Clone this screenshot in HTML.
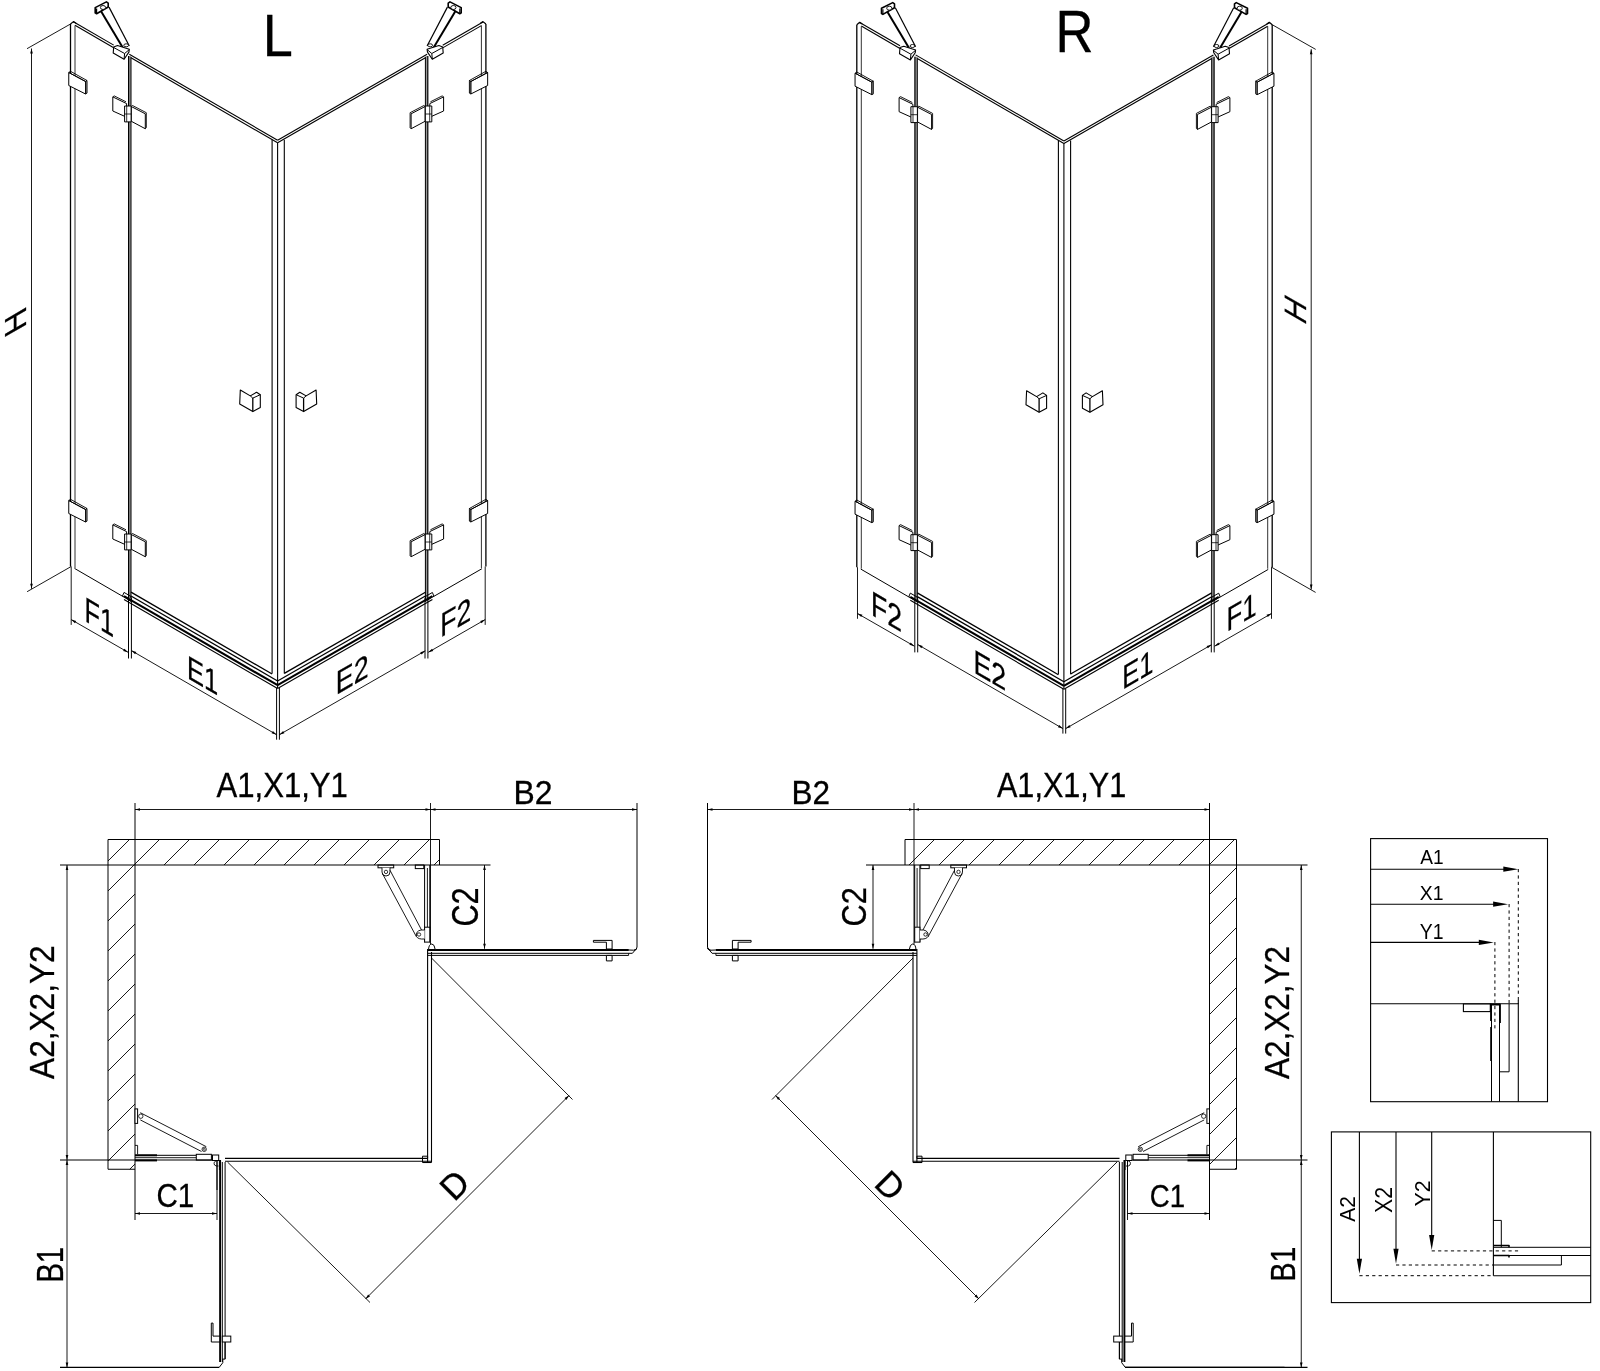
<!DOCTYPE html><html><head><meta charset="utf-8"><style>html,body{margin:0;padding:0;background:#fff;}svg{display:block;filter:grayscale(1);}text{font-family:"Liberation Sans",sans-serif;fill:#000;stroke:#000;stroke-width:0.3px;}.lg text{stroke:none;}</style></head><body><svg width="1600" height="1371" viewBox="0 0 1600 1371" font-family="Liberation Sans, sans-serif">
<rect width="1600" height="1371" fill="#fff"/>
<g transform="translate(0,0)">
<line x1="73.4" y1="21.76" x2="113.7" y2="45.14" stroke="#000" stroke-width="1.1"/>
<line x1="75" y1="25.29" x2="113.7" y2="47.74" stroke="#000" stroke-width="1.1"/>
<line x1="129.3" y1="54.19" x2="277.6" y2="140.2" stroke="#000" stroke-width="1.1"/>
<line x1="131" y1="57.77" x2="277.6" y2="142.8" stroke="#000" stroke-width="1.1"/>
<line x1="70.5" y1="24" x2="70.5" y2="566.5" stroke="#000" stroke-width="1.3"/>
<line x1="75" y1="25.5" x2="75" y2="568" stroke="#333" stroke-width="1.0"/>
<polyline points="70.5,24 73.4,21.6 76,23.2" stroke="#000" stroke-width="1.2" fill="none" stroke-linejoin="round"/>
<line x1="74.5" y1="568.4" x2="123.3" y2="596.71" stroke="#000" stroke-width="1.0"/>
<rect x="128.6" y="56" width="2.4" height="542" fill="#999"/>
<line x1="128.6" y1="56" x2="128.6" y2="598" stroke="#000" stroke-width="1.2"/>
<line x1="131" y1="57" x2="131" y2="598" stroke="#000" stroke-width="1.0"/>
<line x1="272.1" y1="139.8" x2="272.1" y2="673.6" stroke="#000" stroke-width="1.1"/>
<line x1="131" y1="592.17" x2="272.1" y2="674.01" stroke="#000" stroke-width="1.3"/>
<line x1="131" y1="595.97" x2="277.6" y2="681" stroke="#000" stroke-width="1.3"/>
<line x1="124" y1="596.11" x2="277.6" y2="685.2" stroke="#000" stroke-width="2.1"/>
<line x1="124" y1="599.51" x2="277.6" y2="688.6" stroke="#000" stroke-width="1.1"/>
<polygon points="122.5,596.04 124,592.41 131,596.47 131,601.47" stroke="#000" stroke-width="1.0" fill="none" stroke-linejoin="round"/>
<polygon points="68.75,72.5 85.6,81.5 85.6,94 68.75,85.5" stroke="#000" stroke-width="1.0" fill="#fff" stroke-linejoin="round"/>
<polygon points="68.75,72.5 70.5,71.3 87,80.5 85.6,81.5" stroke="#000" stroke-width="0.9" fill="none" stroke-linejoin="round"/>
<rect x="85.6" y="82" width="1.6" height="12" fill="#aaa"/>
<polygon points="85.6,81.5 87,80.5 87,93 85.6,94" stroke="#000" stroke-width="0.9" fill="none" stroke-linejoin="round"/>
<polygon points="68.75,500.5 85.6,509.5 85.6,522 68.75,513.5" stroke="#000" stroke-width="1.0" fill="#fff" stroke-linejoin="round"/>
<polygon points="68.75,500.5 70.5,499.3 87,508.5 85.6,509.5" stroke="#000" stroke-width="0.9" fill="none" stroke-linejoin="round"/>
<rect x="85.6" y="510" width="1.6" height="12" fill="#aaa"/>
<polygon points="85.6,509.5 87,508.5 87,521 85.6,522" stroke="#000" stroke-width="0.9" fill="none" stroke-linejoin="round"/>
<polygon points="112.8,96.9 126.6,103.6 126.6,117.2 112.8,111" stroke="#000" stroke-width="1.0" fill="#fff" stroke-linejoin="round"/>
<polyline points="112.8,96.9 114.2,95.9 126,101.8" stroke="#000" stroke-width="0.9" fill="none" stroke-linejoin="round"/>
<polygon points="131.25,106.5 145.3,113.8 145.3,128.75 131.25,121.25" stroke="#000" stroke-width="1.0" fill="#fff" stroke-linejoin="round"/>
<polyline points="131.25,106.5 132.5,105.5 146.3,112.7 146.3,127.7 145.3,128.75" stroke="#000" stroke-width="0.9" fill="none" stroke-linejoin="round"/>
<polygon points="124.6,106 131.1,106 131.1,121.9 124.6,121.9" stroke="#000" stroke-width="1.0" fill="#fff" stroke-linejoin="round"/>
<line x1="124.6" y1="114" x2="131.1" y2="114" stroke="#000" stroke-width="0.8"/>
<line x1="126.7" y1="106" x2="126.7" y2="121.9" stroke="#000" stroke-width="0.8"/>
<polygon points="112.8,524.9 126.6,531.6 126.6,545.2 112.8,539" stroke="#000" stroke-width="1.0" fill="#fff" stroke-linejoin="round"/>
<polyline points="112.8,524.9 114.2,523.9 126,529.8" stroke="#000" stroke-width="0.9" fill="none" stroke-linejoin="round"/>
<polygon points="131.25,534.5 145.3,541.8 145.3,556.75 131.25,549.25" stroke="#000" stroke-width="1.0" fill="#fff" stroke-linejoin="round"/>
<polyline points="131.25,534.5 132.5,533.5 146.3,540.7 146.3,555.7 145.3,556.75" stroke="#000" stroke-width="0.9" fill="none" stroke-linejoin="round"/>
<polygon points="124.6,534 131.1,534 131.1,549.9 124.6,549.9" stroke="#000" stroke-width="1.0" fill="#fff" stroke-linejoin="round"/>
<line x1="124.6" y1="542" x2="131.1" y2="542" stroke="#000" stroke-width="0.8"/>
<line x1="126.7" y1="534" x2="126.7" y2="549.9" stroke="#000" stroke-width="0.8"/>
<polygon points="240.3,390 250.3,395.9 256.6,392.2 260.3,394.7 260.3,407.5 252.8,411.6 239.7,404" stroke="#000" stroke-width="1.1" fill="none" stroke-linejoin="round"/>
<line x1="252.8" y1="398.1" x2="252.8" y2="411.6" stroke="#000" stroke-width="1.3"/>
<line x1="250.3" y1="395.9" x2="252.8" y2="398.1" stroke="#000" stroke-width="1.0"/>
<line x1="252.8" y1="398.1" x2="260.3" y2="394.7" stroke="#000" stroke-width="1.0"/>
<polygon points="95.2,7.6 106.4,1.9 108.2,3.2 108.2,7 96.6,13.7 95.2,12.9" stroke="#000" stroke-width="1.6" fill="#fff" stroke-linejoin="round"/>
<line x1="96.6" y1="8.6" x2="96.6" y2="13.2" stroke="#000" stroke-width="1.2"/>
<ellipse cx="103" cy="7.5" rx="2.6" ry="2" stroke="#000" stroke-width="0.9" fill="#fff"/>
<line x1="100.9" y1="10.9" x2="122.7" y2="47.4" stroke="#000" stroke-width="2.0"/>
<line x1="109" y1="7.1" x2="129.3" y2="46" stroke="#000" stroke-width="1.2"/>
<ellipse cx="126.2" cy="45.3" rx="2.4" ry="1.5" stroke="#000" stroke-width="0.9" fill="#fff"/>
<polygon points="113.7,46.9 117.5,45.5 129.3,49.3 128.9,52.1 124.1,59.2 113.2,53.1" stroke="#000" stroke-width="1.1" fill="#fff" stroke-linejoin="round"/>
<line x1="113.7" y1="47.5" x2="124.6" y2="53.5" stroke="#000" stroke-width="1.0"/>
<line x1="124.6" y1="53.5" x2="124.1" y2="59.2" stroke="#000" stroke-width="1.0"/>
<line x1="124.6" y1="53.5" x2="129.3" y2="49.6" stroke="#000" stroke-width="1.0"/>
<line x1="483" y1="22.1" x2="442.7" y2="45.27" stroke="#000" stroke-width="1.1"/>
<line x1="481.4" y1="25.62" x2="442.7" y2="47.87" stroke="#000" stroke-width="1.1"/>
<line x1="427.1" y1="54.24" x2="277.6" y2="140.2" stroke="#000" stroke-width="1.1"/>
<line x1="425.4" y1="57.82" x2="277.6" y2="142.8" stroke="#000" stroke-width="1.1"/>
<line x1="485.9" y1="24" x2="485.9" y2="566.5" stroke="#000" stroke-width="1.3"/>
<line x1="481.4" y1="25.5" x2="481.4" y2="568" stroke="#333" stroke-width="1.0"/>
<polyline points="485.9,24 483,21.6 480.4,23.2" stroke="#000" stroke-width="1.2" fill="none" stroke-linejoin="round"/>
<line x1="481.9" y1="568.73" x2="433.1" y2="596.79" stroke="#000" stroke-width="1.0"/>
<rect x="425.4" y="56" width="2.4" height="542" fill="#999"/>
<line x1="427.8" y1="56" x2="427.8" y2="598" stroke="#000" stroke-width="1.2"/>
<line x1="425.4" y1="57" x2="425.4" y2="598" stroke="#000" stroke-width="1.0"/>
<line x1="284.3" y1="139.8" x2="284.3" y2="673.6" stroke="#000" stroke-width="1.1"/>
<line x1="425.4" y1="592.22" x2="284.3" y2="673.35" stroke="#000" stroke-width="1.3"/>
<line x1="425.4" y1="596.01" x2="277.6" y2="681" stroke="#000" stroke-width="1.3"/>
<line x1="432.4" y1="596.19" x2="277.6" y2="685.2" stroke="#000" stroke-width="2.1"/>
<line x1="432.4" y1="599.59" x2="277.6" y2="688.6" stroke="#000" stroke-width="1.1"/>
<polygon points="433.9,596.13 432.4,592.49 425.4,596.51 425.4,601.51" stroke="#000" stroke-width="1.0" fill="none" stroke-linejoin="round"/>
<polygon points="487.65,72.5 470.8,81.5 470.8,94 487.65,85.5" stroke="#000" stroke-width="1.0" fill="#fff" stroke-linejoin="round"/>
<polygon points="487.65,72.5 485.9,71.3 469.4,80.5 470.8,81.5" stroke="#000" stroke-width="0.9" fill="none" stroke-linejoin="round"/>
<rect x="469.2" y="82" width="1.6" height="12" fill="#aaa"/>
<polygon points="470.8,81.5 469.4,80.5 469.4,93 470.8,94" stroke="#000" stroke-width="0.9" fill="none" stroke-linejoin="round"/>
<polygon points="487.65,500.5 470.8,509.5 470.8,522 487.65,513.5" stroke="#000" stroke-width="1.0" fill="#fff" stroke-linejoin="round"/>
<polygon points="487.65,500.5 485.9,499.3 469.4,508.5 470.8,509.5" stroke="#000" stroke-width="0.9" fill="none" stroke-linejoin="round"/>
<rect x="469.2" y="510" width="1.6" height="12" fill="#aaa"/>
<polygon points="470.8,509.5 469.4,508.5 469.4,521 470.8,522" stroke="#000" stroke-width="0.9" fill="none" stroke-linejoin="round"/>
<polygon points="443.6,96.9 429.8,103.6 429.8,117.2 443.6,111" stroke="#000" stroke-width="1.0" fill="#fff" stroke-linejoin="round"/>
<polyline points="443.6,96.9 442.2,95.9 430.4,101.8" stroke="#000" stroke-width="0.9" fill="none" stroke-linejoin="round"/>
<polygon points="425.15,106.5 411.1,113.8 411.1,128.75 425.15,121.25" stroke="#000" stroke-width="1.0" fill="#fff" stroke-linejoin="round"/>
<polyline points="425.15,106.5 423.9,105.5 410.1,112.7 410.1,127.7 411.1,128.75" stroke="#000" stroke-width="0.9" fill="none" stroke-linejoin="round"/>
<polygon points="431.8,106 425.3,106 425.3,121.9 431.8,121.9" stroke="#000" stroke-width="1.0" fill="#fff" stroke-linejoin="round"/>
<line x1="431.8" y1="114" x2="425.3" y2="114" stroke="#000" stroke-width="0.8"/>
<line x1="429.7" y1="106" x2="429.7" y2="121.9" stroke="#000" stroke-width="0.8"/>
<polygon points="443.6,524.9 429.8,531.6 429.8,545.2 443.6,539" stroke="#000" stroke-width="1.0" fill="#fff" stroke-linejoin="round"/>
<polyline points="443.6,524.9 442.2,523.9 430.4,529.8" stroke="#000" stroke-width="0.9" fill="none" stroke-linejoin="round"/>
<polygon points="425.15,534.5 411.1,541.8 411.1,556.75 425.15,549.25" stroke="#000" stroke-width="1.0" fill="#fff" stroke-linejoin="round"/>
<polyline points="425.15,534.5 423.9,533.5 410.1,540.7 410.1,555.7 411.1,556.75" stroke="#000" stroke-width="0.9" fill="none" stroke-linejoin="round"/>
<polygon points="431.8,534 425.3,534 425.3,549.9 431.8,549.9" stroke="#000" stroke-width="1.0" fill="#fff" stroke-linejoin="round"/>
<line x1="431.8" y1="542" x2="425.3" y2="542" stroke="#000" stroke-width="0.8"/>
<line x1="429.7" y1="534" x2="429.7" y2="549.9" stroke="#000" stroke-width="0.8"/>
<polygon points="316.1,390 306.1,395.9 299.8,392.2 296.1,394.7 296.1,407.5 303.6,411.6 316.7,404" stroke="#000" stroke-width="1.1" fill="none" stroke-linejoin="round"/>
<line x1="303.6" y1="398.1" x2="303.6" y2="411.6" stroke="#000" stroke-width="1.3"/>
<line x1="306.1" y1="395.9" x2="303.6" y2="398.1" stroke="#000" stroke-width="1.0"/>
<line x1="303.6" y1="398.1" x2="296.1" y2="394.7" stroke="#000" stroke-width="1.0"/>
<polygon points="461.2,7.6 450,1.9 448.2,3.2 448.2,7 459.8,13.7 461.2,12.9" stroke="#000" stroke-width="1.6" fill="#fff" stroke-linejoin="round"/>
<line x1="459.8" y1="8.6" x2="459.8" y2="13.2" stroke="#000" stroke-width="1.2"/>
<ellipse cx="453.4" cy="7.5" rx="2.6" ry="2" stroke="#000" stroke-width="0.9" fill="#fff"/>
<line x1="455.5" y1="10.9" x2="433.7" y2="47.4" stroke="#000" stroke-width="2.0"/>
<line x1="447.4" y1="7.1" x2="427.1" y2="46" stroke="#000" stroke-width="1.2"/>
<ellipse cx="430.2" cy="45.3" rx="2.4" ry="1.5" stroke="#000" stroke-width="0.9" fill="#fff"/>
<polygon points="442.7,46.9 438.9,45.5 427.1,49.3 427.5,52.1 432.3,59.2 443.2,53.1" stroke="#000" stroke-width="1.1" fill="#fff" stroke-linejoin="round"/>
<line x1="442.7" y1="47.5" x2="431.8" y2="53.5" stroke="#000" stroke-width="1.0"/>
<line x1="431.8" y1="53.5" x2="432.3" y2="59.2" stroke="#000" stroke-width="1.0"/>
<line x1="431.8" y1="53.5" x2="427.1" y2="49.6" stroke="#000" stroke-width="1.0"/>
<line x1="277.6" y1="142.5" x2="277.6" y2="688" stroke="#000" stroke-width="1.1"/>
<line x1="70.5" y1="24" x2="27" y2="48.7" stroke="#000" stroke-width="0.9"/>
<line x1="71.2" y1="566.5" x2="27.1" y2="591.7" stroke="#000" stroke-width="0.9"/>
<line x1="31.5" y1="48.5" x2="31.5" y2="588.8" stroke="#000" stroke-width="0.9"/>
<polygon points="31.5,48.5 32.8,53.5 30.2,53.5" fill="#000"/>
<polygon points="31.5,588.8 30.2,583.8 32.8,583.8" fill="#000"/>
<line x1="71.2" y1="566.5" x2="71.2" y2="624.9" stroke="#000" stroke-width="0.9"/>
<line x1="128.5" y1="598" x2="128.5" y2="658.5" stroke="#000" stroke-width="1.0"/>
<line x1="131.4" y1="598" x2="131.4" y2="658.5" stroke="#000" stroke-width="1.0"/>
<line x1="71.2" y1="619.6" x2="128.1" y2="652.3" stroke="#000" stroke-width="0.9"/>
<polygon points="71.2,619.6 76.18,620.96 74.89,623.22" fill="#000"/>
<polygon points="128.1,652.3 123.12,650.94 124.41,648.68" fill="#000"/>
<line x1="131.4" y1="650.6" x2="276.6" y2="734.7" stroke="#000" stroke-width="0.9"/>
<polygon points="131.4,650.6 136.38,651.98 135.08,654.23" fill="#000"/>
<polygon points="276.6,734.7 271.62,733.32 272.92,731.07" fill="#000"/>
<line x1="276.6" y1="688" x2="276.6" y2="739.7" stroke="#000" stroke-width="1.0"/>
<line x1="279.4" y1="688" x2="279.4" y2="739.7" stroke="#000" stroke-width="1.0"/>
<line x1="279.4" y1="734.7" x2="425.3" y2="650.8" stroke="#000" stroke-width="0.9"/>
<polygon points="279.4,734.7 283.09,731.08 284.38,733.33" fill="#000"/>
<polygon points="425.3,650.8 421.61,654.42 420.32,652.17" fill="#000"/>
<line x1="427.9" y1="598" x2="427.9" y2="658.5" stroke="#000" stroke-width="1.0"/>
<line x1="425" y1="598" x2="425" y2="658.5" stroke="#000" stroke-width="1.0"/>
<line x1="485.2" y1="566.5" x2="485.2" y2="624.9" stroke="#000" stroke-width="0.9"/>
<line x1="428.3" y1="652.3" x2="485.2" y2="619.6" stroke="#000" stroke-width="0.9"/>
<polygon points="428.3,652.3 431.99,648.68 433.28,650.94" fill="#000"/>
<polygon points="485.2,619.6 481.51,623.22 480.22,620.96" fill="#000"/>
</g>
<g class="lab" transform="matrix(1,0,0,1,267,55.5)"><text x="-4.75" y="0" font-size="59.42" transform="scale(0.91,1)">L</text></g>
<g class="lab" transform="matrix(0,-1,1,-0.58,26,324.88)"><text x="-2.43" y="0" font-size="30.43" transform="scale(1.01,1)">H</text></g>
<g class="lab" transform="matrix(1,0.58,0,1,86.6,621.8)"><text x="-2.81" y="0" font-size="35.07" transform="scale(0.72,1)">F1</text></g>
<g class="lab" transform="matrix(1,0.58,0,1,189,678.84)"><text x="-2.65" y="0" font-size="33.11" transform="scale(0.77,1)">E1</text></g>
<g class="lab" transform="matrix(1,-0.58,0,1,338,693.9)"><text x="-2.64" y="0" font-size="33" transform="scale(0.81,1)">E2</text></g>
<g class="lab" transform="matrix(1,-0.58,0,1,442.4,636.5)"><text x="-2.69" y="0" font-size="33.57" transform="scale(0.79,1)">F2</text></g>
<g transform="translate(786.3,0.7)">
<line x1="73.4" y1="21.76" x2="113.7" y2="45.14" stroke="#000" stroke-width="1.1"/>
<line x1="75" y1="25.29" x2="113.7" y2="47.74" stroke="#000" stroke-width="1.1"/>
<line x1="129.3" y1="54.19" x2="277.6" y2="140.2" stroke="#000" stroke-width="1.1"/>
<line x1="131" y1="57.77" x2="277.6" y2="142.8" stroke="#000" stroke-width="1.1"/>
<line x1="70.5" y1="24" x2="70.5" y2="566.5" stroke="#000" stroke-width="1.3"/>
<line x1="75" y1="25.5" x2="75" y2="568" stroke="#333" stroke-width="1.0"/>
<polyline points="70.5,24 73.4,21.6 76,23.2" stroke="#000" stroke-width="1.2" fill="none" stroke-linejoin="round"/>
<line x1="74.5" y1="568.4" x2="123.3" y2="596.71" stroke="#000" stroke-width="1.0"/>
<rect x="128.6" y="56" width="2.4" height="542" fill="#999"/>
<line x1="128.6" y1="56" x2="128.6" y2="598" stroke="#000" stroke-width="1.2"/>
<line x1="131" y1="57" x2="131" y2="598" stroke="#000" stroke-width="1.0"/>
<line x1="272.1" y1="139.8" x2="272.1" y2="673.6" stroke="#000" stroke-width="1.1"/>
<line x1="131" y1="592.17" x2="272.1" y2="674.01" stroke="#000" stroke-width="1.3"/>
<line x1="131" y1="595.97" x2="277.6" y2="681" stroke="#000" stroke-width="1.3"/>
<line x1="124" y1="596.11" x2="277.6" y2="685.2" stroke="#000" stroke-width="2.1"/>
<line x1="124" y1="599.51" x2="277.6" y2="688.6" stroke="#000" stroke-width="1.1"/>
<polygon points="122.5,596.04 124,592.41 131,596.47 131,601.47" stroke="#000" stroke-width="1.0" fill="none" stroke-linejoin="round"/>
<polygon points="68.75,72.5 85.6,81.5 85.6,94 68.75,85.5" stroke="#000" stroke-width="1.0" fill="#fff" stroke-linejoin="round"/>
<polygon points="68.75,72.5 70.5,71.3 87,80.5 85.6,81.5" stroke="#000" stroke-width="0.9" fill="none" stroke-linejoin="round"/>
<rect x="85.6" y="82" width="1.6" height="12" fill="#aaa"/>
<polygon points="85.6,81.5 87,80.5 87,93 85.6,94" stroke="#000" stroke-width="0.9" fill="none" stroke-linejoin="round"/>
<polygon points="68.75,500.5 85.6,509.5 85.6,522 68.75,513.5" stroke="#000" stroke-width="1.0" fill="#fff" stroke-linejoin="round"/>
<polygon points="68.75,500.5 70.5,499.3 87,508.5 85.6,509.5" stroke="#000" stroke-width="0.9" fill="none" stroke-linejoin="round"/>
<rect x="85.6" y="510" width="1.6" height="12" fill="#aaa"/>
<polygon points="85.6,509.5 87,508.5 87,521 85.6,522" stroke="#000" stroke-width="0.9" fill="none" stroke-linejoin="round"/>
<polygon points="112.8,96.9 126.6,103.6 126.6,117.2 112.8,111" stroke="#000" stroke-width="1.0" fill="#fff" stroke-linejoin="round"/>
<polyline points="112.8,96.9 114.2,95.9 126,101.8" stroke="#000" stroke-width="0.9" fill="none" stroke-linejoin="round"/>
<polygon points="131.25,106.5 145.3,113.8 145.3,128.75 131.25,121.25" stroke="#000" stroke-width="1.0" fill="#fff" stroke-linejoin="round"/>
<polyline points="131.25,106.5 132.5,105.5 146.3,112.7 146.3,127.7 145.3,128.75" stroke="#000" stroke-width="0.9" fill="none" stroke-linejoin="round"/>
<polygon points="124.6,106 131.1,106 131.1,121.9 124.6,121.9" stroke="#000" stroke-width="1.0" fill="#fff" stroke-linejoin="round"/>
<line x1="124.6" y1="114" x2="131.1" y2="114" stroke="#000" stroke-width="0.8"/>
<line x1="126.7" y1="106" x2="126.7" y2="121.9" stroke="#000" stroke-width="0.8"/>
<polygon points="112.8,524.9 126.6,531.6 126.6,545.2 112.8,539" stroke="#000" stroke-width="1.0" fill="#fff" stroke-linejoin="round"/>
<polyline points="112.8,524.9 114.2,523.9 126,529.8" stroke="#000" stroke-width="0.9" fill="none" stroke-linejoin="round"/>
<polygon points="131.25,534.5 145.3,541.8 145.3,556.75 131.25,549.25" stroke="#000" stroke-width="1.0" fill="#fff" stroke-linejoin="round"/>
<polyline points="131.25,534.5 132.5,533.5 146.3,540.7 146.3,555.7 145.3,556.75" stroke="#000" stroke-width="0.9" fill="none" stroke-linejoin="round"/>
<polygon points="124.6,534 131.1,534 131.1,549.9 124.6,549.9" stroke="#000" stroke-width="1.0" fill="#fff" stroke-linejoin="round"/>
<line x1="124.6" y1="542" x2="131.1" y2="542" stroke="#000" stroke-width="0.8"/>
<line x1="126.7" y1="534" x2="126.7" y2="549.9" stroke="#000" stroke-width="0.8"/>
<polygon points="240.3,390 250.3,395.9 256.6,392.2 260.3,394.7 260.3,407.5 252.8,411.6 239.7,404" stroke="#000" stroke-width="1.1" fill="none" stroke-linejoin="round"/>
<line x1="252.8" y1="398.1" x2="252.8" y2="411.6" stroke="#000" stroke-width="1.3"/>
<line x1="250.3" y1="395.9" x2="252.8" y2="398.1" stroke="#000" stroke-width="1.0"/>
<line x1="252.8" y1="398.1" x2="260.3" y2="394.7" stroke="#000" stroke-width="1.0"/>
<polygon points="95.2,7.6 106.4,1.9 108.2,3.2 108.2,7 96.6,13.7 95.2,12.9" stroke="#000" stroke-width="1.6" fill="#fff" stroke-linejoin="round"/>
<line x1="96.6" y1="8.6" x2="96.6" y2="13.2" stroke="#000" stroke-width="1.2"/>
<ellipse cx="103" cy="7.5" rx="2.6" ry="2" stroke="#000" stroke-width="0.9" fill="#fff"/>
<line x1="100.9" y1="10.9" x2="122.7" y2="47.4" stroke="#000" stroke-width="2.0"/>
<line x1="109" y1="7.1" x2="129.3" y2="46" stroke="#000" stroke-width="1.2"/>
<ellipse cx="126.2" cy="45.3" rx="2.4" ry="1.5" stroke="#000" stroke-width="0.9" fill="#fff"/>
<polygon points="113.7,46.9 117.5,45.5 129.3,49.3 128.9,52.1 124.1,59.2 113.2,53.1" stroke="#000" stroke-width="1.1" fill="#fff" stroke-linejoin="round"/>
<line x1="113.7" y1="47.5" x2="124.6" y2="53.5" stroke="#000" stroke-width="1.0"/>
<line x1="124.6" y1="53.5" x2="124.1" y2="59.2" stroke="#000" stroke-width="1.0"/>
<line x1="124.6" y1="53.5" x2="129.3" y2="49.6" stroke="#000" stroke-width="1.0"/>
<line x1="483" y1="22.1" x2="442.7" y2="45.27" stroke="#000" stroke-width="1.1"/>
<line x1="481.4" y1="25.62" x2="442.7" y2="47.87" stroke="#000" stroke-width="1.1"/>
<line x1="427.1" y1="54.24" x2="277.6" y2="140.2" stroke="#000" stroke-width="1.1"/>
<line x1="425.4" y1="57.82" x2="277.6" y2="142.8" stroke="#000" stroke-width="1.1"/>
<line x1="485.9" y1="24" x2="485.9" y2="566.5" stroke="#000" stroke-width="1.3"/>
<line x1="481.4" y1="25.5" x2="481.4" y2="568" stroke="#333" stroke-width="1.0"/>
<polyline points="485.9,24 483,21.6 480.4,23.2" stroke="#000" stroke-width="1.2" fill="none" stroke-linejoin="round"/>
<line x1="481.9" y1="568.73" x2="433.1" y2="596.79" stroke="#000" stroke-width="1.0"/>
<rect x="425.4" y="56" width="2.4" height="542" fill="#999"/>
<line x1="427.8" y1="56" x2="427.8" y2="598" stroke="#000" stroke-width="1.2"/>
<line x1="425.4" y1="57" x2="425.4" y2="598" stroke="#000" stroke-width="1.0"/>
<line x1="284.3" y1="139.8" x2="284.3" y2="673.6" stroke="#000" stroke-width="1.1"/>
<line x1="425.4" y1="592.22" x2="284.3" y2="673.35" stroke="#000" stroke-width="1.3"/>
<line x1="425.4" y1="596.01" x2="277.6" y2="681" stroke="#000" stroke-width="1.3"/>
<line x1="432.4" y1="596.19" x2="277.6" y2="685.2" stroke="#000" stroke-width="2.1"/>
<line x1="432.4" y1="599.59" x2="277.6" y2="688.6" stroke="#000" stroke-width="1.1"/>
<polygon points="433.9,596.13 432.4,592.49 425.4,596.51 425.4,601.51" stroke="#000" stroke-width="1.0" fill="none" stroke-linejoin="round"/>
<polygon points="487.65,72.5 470.8,81.5 470.8,94 487.65,85.5" stroke="#000" stroke-width="1.0" fill="#fff" stroke-linejoin="round"/>
<polygon points="487.65,72.5 485.9,71.3 469.4,80.5 470.8,81.5" stroke="#000" stroke-width="0.9" fill="none" stroke-linejoin="round"/>
<rect x="469.2" y="82" width="1.6" height="12" fill="#aaa"/>
<polygon points="470.8,81.5 469.4,80.5 469.4,93 470.8,94" stroke="#000" stroke-width="0.9" fill="none" stroke-linejoin="round"/>
<polygon points="487.65,500.5 470.8,509.5 470.8,522 487.65,513.5" stroke="#000" stroke-width="1.0" fill="#fff" stroke-linejoin="round"/>
<polygon points="487.65,500.5 485.9,499.3 469.4,508.5 470.8,509.5" stroke="#000" stroke-width="0.9" fill="none" stroke-linejoin="round"/>
<rect x="469.2" y="510" width="1.6" height="12" fill="#aaa"/>
<polygon points="470.8,509.5 469.4,508.5 469.4,521 470.8,522" stroke="#000" stroke-width="0.9" fill="none" stroke-linejoin="round"/>
<polygon points="443.6,96.9 429.8,103.6 429.8,117.2 443.6,111" stroke="#000" stroke-width="1.0" fill="#fff" stroke-linejoin="round"/>
<polyline points="443.6,96.9 442.2,95.9 430.4,101.8" stroke="#000" stroke-width="0.9" fill="none" stroke-linejoin="round"/>
<polygon points="425.15,106.5 411.1,113.8 411.1,128.75 425.15,121.25" stroke="#000" stroke-width="1.0" fill="#fff" stroke-linejoin="round"/>
<polyline points="425.15,106.5 423.9,105.5 410.1,112.7 410.1,127.7 411.1,128.75" stroke="#000" stroke-width="0.9" fill="none" stroke-linejoin="round"/>
<polygon points="431.8,106 425.3,106 425.3,121.9 431.8,121.9" stroke="#000" stroke-width="1.0" fill="#fff" stroke-linejoin="round"/>
<line x1="431.8" y1="114" x2="425.3" y2="114" stroke="#000" stroke-width="0.8"/>
<line x1="429.7" y1="106" x2="429.7" y2="121.9" stroke="#000" stroke-width="0.8"/>
<polygon points="443.6,524.9 429.8,531.6 429.8,545.2 443.6,539" stroke="#000" stroke-width="1.0" fill="#fff" stroke-linejoin="round"/>
<polyline points="443.6,524.9 442.2,523.9 430.4,529.8" stroke="#000" stroke-width="0.9" fill="none" stroke-linejoin="round"/>
<polygon points="425.15,534.5 411.1,541.8 411.1,556.75 425.15,549.25" stroke="#000" stroke-width="1.0" fill="#fff" stroke-linejoin="round"/>
<polyline points="425.15,534.5 423.9,533.5 410.1,540.7 410.1,555.7 411.1,556.75" stroke="#000" stroke-width="0.9" fill="none" stroke-linejoin="round"/>
<polygon points="431.8,534 425.3,534 425.3,549.9 431.8,549.9" stroke="#000" stroke-width="1.0" fill="#fff" stroke-linejoin="round"/>
<line x1="431.8" y1="542" x2="425.3" y2="542" stroke="#000" stroke-width="0.8"/>
<line x1="429.7" y1="534" x2="429.7" y2="549.9" stroke="#000" stroke-width="0.8"/>
<polygon points="316.1,390 306.1,395.9 299.8,392.2 296.1,394.7 296.1,407.5 303.6,411.6 316.7,404" stroke="#000" stroke-width="1.1" fill="none" stroke-linejoin="round"/>
<line x1="303.6" y1="398.1" x2="303.6" y2="411.6" stroke="#000" stroke-width="1.3"/>
<line x1="306.1" y1="395.9" x2="303.6" y2="398.1" stroke="#000" stroke-width="1.0"/>
<line x1="303.6" y1="398.1" x2="296.1" y2="394.7" stroke="#000" stroke-width="1.0"/>
<polygon points="461.2,7.6 450,1.9 448.2,3.2 448.2,7 459.8,13.7 461.2,12.9" stroke="#000" stroke-width="1.6" fill="#fff" stroke-linejoin="round"/>
<line x1="459.8" y1="8.6" x2="459.8" y2="13.2" stroke="#000" stroke-width="1.2"/>
<ellipse cx="453.4" cy="7.5" rx="2.6" ry="2" stroke="#000" stroke-width="0.9" fill="#fff"/>
<line x1="455.5" y1="10.9" x2="433.7" y2="47.4" stroke="#000" stroke-width="2.0"/>
<line x1="447.4" y1="7.1" x2="427.1" y2="46" stroke="#000" stroke-width="1.2"/>
<ellipse cx="430.2" cy="45.3" rx="2.4" ry="1.5" stroke="#000" stroke-width="0.9" fill="#fff"/>
<polygon points="442.7,46.9 438.9,45.5 427.1,49.3 427.5,52.1 432.3,59.2 443.2,53.1" stroke="#000" stroke-width="1.1" fill="#fff" stroke-linejoin="round"/>
<line x1="442.7" y1="47.5" x2="431.8" y2="53.5" stroke="#000" stroke-width="1.0"/>
<line x1="431.8" y1="53.5" x2="432.3" y2="59.2" stroke="#000" stroke-width="1.0"/>
<line x1="431.8" y1="53.5" x2="427.1" y2="49.6" stroke="#000" stroke-width="1.0"/>
<line x1="277.6" y1="142.5" x2="277.6" y2="688" stroke="#000" stroke-width="1.1"/>
<line x1="485.9" y1="24" x2="529.4" y2="48.7" stroke="#000" stroke-width="0.9"/>
<line x1="485.2" y1="566.5" x2="529.3" y2="591.7" stroke="#000" stroke-width="0.9"/>
<line x1="524.9" y1="48.5" x2="524.9" y2="588.8" stroke="#000" stroke-width="0.9"/>
<polygon points="524.9,48.5 526.2,53.5 523.6,53.5" fill="#000"/>
<polygon points="524.9,588.8 523.6,583.8 526.2,583.8" fill="#000"/>
<line x1="71.2" y1="566.5" x2="71.2" y2="618.1" stroke="#000" stroke-width="0.9"/>
<line x1="128.5" y1="598" x2="128.5" y2="651.7" stroke="#000" stroke-width="1.0"/>
<line x1="131.4" y1="598" x2="131.4" y2="651.7" stroke="#000" stroke-width="1.0"/>
<line x1="71.2" y1="612.8" x2="128.1" y2="645.5" stroke="#000" stroke-width="0.9"/>
<polygon points="71.2,612.8 76.18,614.16 74.89,616.42" fill="#000"/>
<polygon points="128.1,645.5 123.12,644.14 124.41,641.88" fill="#000"/>
<line x1="131.4" y1="643.8" x2="276.6" y2="727.9" stroke="#000" stroke-width="0.9"/>
<polygon points="131.4,643.8 136.38,645.18 135.08,647.43" fill="#000"/>
<polygon points="276.6,727.9 271.62,726.52 272.92,724.27" fill="#000"/>
<line x1="276.6" y1="688" x2="276.6" y2="732.9" stroke="#000" stroke-width="1.0"/>
<line x1="279.4" y1="688" x2="279.4" y2="732.9" stroke="#000" stroke-width="1.0"/>
<line x1="279.4" y1="727.9" x2="425.3" y2="644" stroke="#000" stroke-width="0.9"/>
<polygon points="279.4,727.9 283.09,724.28 284.38,726.53" fill="#000"/>
<polygon points="425.3,644 421.61,647.62 420.32,645.37" fill="#000"/>
<line x1="427.9" y1="598" x2="427.9" y2="651.7" stroke="#000" stroke-width="1.0"/>
<line x1="425" y1="598" x2="425" y2="651.7" stroke="#000" stroke-width="1.0"/>
<line x1="485.2" y1="566.5" x2="485.2" y2="618.1" stroke="#000" stroke-width="0.9"/>
<line x1="428.3" y1="645.5" x2="485.2" y2="612.8" stroke="#000" stroke-width="0.9"/>
<polygon points="428.3,645.5 431.99,641.88 433.28,644.14" fill="#000"/>
<polygon points="485.2,612.8 481.51,616.42 480.22,614.16" fill="#000"/>
</g>
<g class="lab" transform="matrix(1,0,0,1,1059.7,51.6)"><text x="-4.68" y="0" font-size="58.48" transform="scale(0.9,1)">R</text></g>
<g class="lab" transform="matrix(0,-1,1,0.58,1305.9,323.8)"><text x="-2.46" y="0" font-size="30.72" transform="scale(0.97,1)">H</text></g>
<g class="lab" transform="matrix(1,0.58,0,1,873.2,615.8)"><text x="-2.79" y="0" font-size="34.86" transform="scale(0.76,1)">F2</text></g>
<g class="lab" transform="matrix(1,0.58,0,1,975.6,673.6)"><text x="-2.67" y="0" font-size="33.43" transform="scale(0.8,1)">E2</text></g>
<g class="lab" transform="matrix(1,-0.58,0,1,1124.2,688.7)"><text x="-2.68" y="0" font-size="33.48" transform="scale(0.76,1)">E1</text></g>
<g class="lab" transform="matrix(1,-0.58,0,1,1228.6,630.7)"><text x="-2.68" y="0" font-size="33.48" transform="scale(0.77,1)">F1</text></g>
<defs><clipPath id="wl"><path d="M108,839.5 H439.5 V865 H135 V1169.25 H108 Z"/></clipPath><clipPath id="wr"><path d="M1236.5,839.5 H905 V865 H1209.5 V1169.25 H1236.5 Z"/></clipPath></defs>
<path clip-path="url(#wl)" d="M-481,1180 L-121,820 M-451,1180 L-91,820 M-421,1180 L-61,820 M-391,1180 L-31,820 M-361,1180 L-1,820 M-331,1180 L29,820 M-301,1180 L59,820 M-271,1180 L89,820 M-241,1180 L119,820 M-211,1180 L149,820 M-181,1180 L179,820 M-151,1180 L209,820 M-121,1180 L239,820 M-91,1180 L269,820 M-61,1180 L299,820 M-31,1180 L329,820 M-1,1180 L359,820 M29,1180 L389,820 M59,1180 L419,820 M89,1180 L449,820 M119,1180 L479,820 M149,1180 L509,820" stroke="#000" stroke-width="0.9" fill="none"/>
<path clip-path="url(#wr)" d="M534,1180 L894,820 M564,1180 L924,820 M594,1180 L954,820 M624,1180 L984,820 M654,1180 L1014,820 M684,1180 L1044,820 M714,1180 L1074,820 M744,1180 L1104,820 M774,1180 L1134,820 M804,1180 L1164,820 M834,1180 L1194,820 M864,1180 L1224,820 M894,1180 L1254,820 M924,1180 L1284,820 M954,1180 L1314,820 M984,1180 L1344,820 M1014,1180 L1374,820 M1044,1180 L1404,820 M1074,1180 L1434,820 M1104,1180 L1464,820 M1134,1180 L1494,820 M1164,1180 L1524,820 M1194,1180 L1554,820 M1224,1180 L1584,820 M1254,1180 L1614,820" stroke="#000" stroke-width="0.9" fill="none"/>
<line x1="108" y1="839.5" x2="439.5" y2="839.5" stroke="#000" stroke-width="1.0"/>
<line x1="439.5" y1="839.5" x2="439.5" y2="865" stroke="#000" stroke-width="1.0"/>
<line x1="108" y1="839.5" x2="108" y2="1169.25" stroke="#000" stroke-width="1.0"/>
<line x1="108" y1="1169.25" x2="135" y2="1169.25" stroke="#000" stroke-width="1.0"/>
<line x1="135" y1="803" x2="135" y2="1220" stroke="#000" stroke-width="1.0"/>
<line x1="430.5" y1="803" x2="430.5" y2="948" stroke="#000" stroke-width="0.9"/>
<line x1="637" y1="803" x2="637" y2="947" stroke="#000" stroke-width="1.0"/>
<path d="M637,947 Q637,950 634,950.3" stroke="#000" stroke-width="1" fill="none"/>
<line x1="135" y1="809.5" x2="430.5" y2="809.5" stroke="#000" stroke-width="0.9"/>
<polygon points="135,809.5 140,808.2 140,810.8" fill="#000"/>
<polygon points="430.5,809.5 425.5,810.8 425.5,808.2" fill="#000"/>
<line x1="430.5" y1="809.5" x2="637" y2="809.5" stroke="#000" stroke-width="0.9"/>
<polygon points="430.5,809.5 435.5,808.2 435.5,810.8" fill="#000"/>
<polygon points="637,809.5 632,810.8 632,808.2" fill="#000"/>
<line x1="217" y1="1160" x2="217" y2="1220" stroke="#000" stroke-width="0.9"/>
<line x1="135" y1="1213.5" x2="217" y2="1213.5" stroke="#000" stroke-width="0.9"/>
<polygon points="135,1213.5 140,1212.2 140,1214.8" fill="#000"/>
<polygon points="217,1213.5 212,1214.8 212,1212.2" fill="#000"/>
<line x1="431.5" y1="958" x2="572.5" y2="1099.5" stroke="#000" stroke-width="0.9"/>
<line x1="227.5" y1="1162" x2="370" y2="1302.5" stroke="#000" stroke-width="0.9"/>
<line x1="569" y1="1095.5" x2="365.5" y2="1299" stroke="#000" stroke-width="0.9"/>
<polygon points="569,1095.5 566.38,1099.95 564.55,1098.12" fill="#000"/>
<polygon points="365.5,1299 368.12,1294.55 369.95,1296.38" fill="#000"/>
<line x1="427.6" y1="949" x2="427.6" y2="1162.5" stroke="#000" stroke-width="1.1"/>
<line x1="431.5" y1="952" x2="431.5" y2="1162.5" stroke="#000" stroke-width="1.1"/>
<line x1="225" y1="1158.4" x2="427.6" y2="1158.4" stroke="#000" stroke-width="1.1"/>
<line x1="225" y1="1161.2" x2="431.5" y2="1161.2" stroke="#000" stroke-width="1.1"/>
<polyline points="422.5,1156.2 427.6,1156.2 427.6,1158.4" stroke="#000" stroke-width="1.0" fill="none" stroke-linejoin="round"/>
<line x1="422.5" y1="1156.2" x2="422.5" y2="1162.5" stroke="#000" stroke-width="1.0"/>
<line x1="422.5" y1="1162.5" x2="431.5" y2="1162.5" stroke="#000" stroke-width="1.1"/>
<line x1="427.6" y1="949.9" x2="628.8" y2="949.9" stroke="#000" stroke-width="2.0"/>
<line x1="427.6" y1="953.3" x2="632.4" y2="953.3" stroke="#000" stroke-width="1.0"/>
<line x1="427.6" y1="955.4" x2="628.6" y2="955.4" stroke="#000" stroke-width="1.0"/>
<line x1="628.6" y1="955.4" x2="628.6" y2="953.3" stroke="#000" stroke-width="0.9"/>
<path d="M628.8,950 L633.5,950.2 Q636,950.5 636.9,948 L632.4,953.3" stroke="#000" stroke-width="1" fill="none"/>
<polygon points="593.4,940.4 612.1,940.4 612.1,949 606.4,949 606.4,942.2 593.4,942.2" stroke="#000" stroke-width="1.0" fill="#fff" stroke-linejoin="round"/>
<polygon points="606.4,955.4 612.1,955.4 612.1,960.9 606.4,960.9" stroke="#000" stroke-width="1.0" fill="#fff" stroke-linejoin="round"/>
<path d="M428.5,949.5 Q429,944 431.8,944 Q434.5,944 435.2,949.5 Z" stroke="#000" stroke-width="1" fill="#fff"/>
<line x1="424.6" y1="865" x2="424.6" y2="942.3" stroke="#000" stroke-width="1.0"/>
<line x1="427.4" y1="868" x2="427.4" y2="927" stroke="#000" stroke-width="0.9"/>
<line x1="429.8" y1="865" x2="429.8" y2="942.3" stroke="#000" stroke-width="1.0"/>
<rect x="424.6" y="927.2" width="5.2" height="14.9" stroke="#000" stroke-width="1.0" fill="#fff"/>
<rect x="415.3" y="865" width="8.5" height="3.6" stroke="#000" stroke-width="1.0" fill="#fff"/>
<rect x="378" y="865" width="15.7" height="2.8" stroke="#000" stroke-width="1.0" fill="#fff"/>
<path d="M382,867.8 L382,872 Q382,876 386,876 Q390,876 390,872 L390,867.8" stroke="#000" stroke-width="0.9" fill="#fff"/>
<circle cx="386" cy="871.9" r="1.7" stroke="#000" stroke-width="0.8" fill="none"/>
<line x1="382.4" y1="873.5" x2="416.5" y2="936.9" stroke="#000" stroke-width="0.9"/>
<line x1="390" y1="870.25" x2="422.2" y2="931.25" stroke="#000" stroke-width="0.9"/>
<path d="M424.6,930 L421,930 Q415.5,931 416.5,936.5 Q418,939.5 424.6,939" stroke="#000" stroke-width="0.9" fill="#fff"/>
<circle cx="419" cy="934.5" r="1.7" stroke="#000" stroke-width="0.8" fill="none"/>
<line x1="220.1" y1="1160" x2="220.1" y2="1362" stroke="#000" stroke-width="1.9"/>
<line x1="222.3" y1="1162" x2="222.3" y2="1362" stroke="#000" stroke-width="1.0"/>
<line x1="225.1" y1="1162" x2="225.1" y2="1359.1" stroke="#000" stroke-width="1.0"/>
<line x1="225.1" y1="1359.1" x2="222.3" y2="1359.1" stroke="#000" stroke-width="1.0"/>
<line x1="60" y1="1367.4" x2="219.2" y2="1367.4" stroke="#000" stroke-width="1.1"/>
<polyline points="219.2,1367.4 222.8,1362.7 222.8,1359" stroke="#000" stroke-width="1.0" fill="none" stroke-linejoin="round"/>
<polyline points="211.3,1323.1 213,1323.1 213,1336.1 220,1336.1" stroke="#000" stroke-width="1.0" fill="none" stroke-linejoin="round"/>
<polyline points="211.3,1323.1 211.3,1342 220,1342" stroke="#000" stroke-width="1.0" fill="none" stroke-linejoin="round"/>
<rect x="222.3" y="1336.1" width="8.5" height="5.9" stroke="#000" stroke-width="1.0" fill="#fff"/>
<line x1="225.1" y1="1342" x2="225.1" y2="1359.1" stroke="#000" stroke-width="1.0"/>
<rect x="212.5" y="1155" width="6.2" height="5.5" stroke="#000" stroke-width="1.0" fill="#fff"/>
<path d="M217,1160.5 Q213,1161.5 214.5,1165 Q216,1166.5 218.5,1166" stroke="#000" stroke-width="0.9" fill="none"/>
<line x1="217" y1="1160" x2="217" y2="1190" stroke="#000" stroke-width="1.0"/>
<line x1="219.4" y1="1160" x2="219.4" y2="1170" stroke="#000" stroke-width="0.9"/>
<line x1="135" y1="1155.3" x2="196.3" y2="1155.3" stroke="#000" stroke-width="1.0"/>
<line x1="135" y1="1157.7" x2="196.3" y2="1157.7" stroke="#000" stroke-width="0.9"/>
<rect x="135" y="1154.3" width="22" height="2" fill="#000"/>
<rect x="135" y="1159.4" width="22" height="2" fill="#000"/>
<rect x="196.3" y="1154.3" width="15.1" height="5.8" stroke="#000" stroke-width="1.0" fill="#fff"/>
<polyline points="135,1145.4 137.6,1145.4 137.6,1154.3" stroke="#000" stroke-width="0.9" fill="none" stroke-linejoin="round"/>
<rect x="135" y="1108.9" width="2.6" height="14.5" stroke="#000" stroke-width="1.0" fill="#fff"/>
<line x1="140.3" y1="1112.7" x2="206.3" y2="1146.7" stroke="#000" stroke-width="0.9"/>
<line x1="140.3" y1="1119.9" x2="201.5" y2="1151.5" stroke="#000" stroke-width="0.9"/>
<circle cx="140.8" cy="1116.2" r="2.2" stroke="#000" stroke-width="0.8" fill="none"/>
<circle cx="204.2" cy="1149.3" r="2.2" stroke="#000" stroke-width="0.8" fill="none"/>
<circle cx="204.2" cy="1149.3" r="1" stroke="#000" stroke-width="0.7" fill="none"/>
<g transform="matrix(-1,0,0,1,1344.5,0)">
<line x1="108" y1="839.5" x2="439.5" y2="839.5" stroke="#000" stroke-width="1.0"/>
<line x1="439.5" y1="839.5" x2="439.5" y2="865" stroke="#000" stroke-width="1.0"/>
<line x1="108" y1="839.5" x2="108" y2="1169.25" stroke="#000" stroke-width="1.0"/>
<line x1="108" y1="1169.25" x2="135" y2="1169.25" stroke="#000" stroke-width="1.0"/>
<line x1="135" y1="803" x2="135" y2="1220" stroke="#000" stroke-width="1.0"/>
<line x1="430.5" y1="803" x2="430.5" y2="948" stroke="#000" stroke-width="0.9"/>
<line x1="637" y1="803" x2="637" y2="947" stroke="#000" stroke-width="1.0"/>
<path d="M637,947 Q637,950 634,950.3" stroke="#000" stroke-width="1" fill="none"/>
<line x1="135" y1="809.5" x2="430.5" y2="809.5" stroke="#000" stroke-width="0.9"/>
<polygon points="135,809.5 140,808.2 140,810.8" fill="#000"/>
<polygon points="430.5,809.5 425.5,810.8 425.5,808.2" fill="#000"/>
<line x1="430.5" y1="809.5" x2="637" y2="809.5" stroke="#000" stroke-width="0.9"/>
<polygon points="430.5,809.5 435.5,808.2 435.5,810.8" fill="#000"/>
<polygon points="637,809.5 632,810.8 632,808.2" fill="#000"/>
<line x1="217" y1="1160" x2="217" y2="1220" stroke="#000" stroke-width="0.9"/>
<line x1="135" y1="1213.5" x2="217" y2="1213.5" stroke="#000" stroke-width="0.9"/>
<polygon points="135,1213.5 140,1212.2 140,1214.8" fill="#000"/>
<polygon points="217,1213.5 212,1214.8 212,1212.2" fill="#000"/>
<line x1="431.5" y1="958" x2="572.5" y2="1099.5" stroke="#000" stroke-width="0.9"/>
<line x1="227.5" y1="1162" x2="370" y2="1302.5" stroke="#000" stroke-width="0.9"/>
<line x1="569" y1="1095.5" x2="365.5" y2="1299" stroke="#000" stroke-width="0.9"/>
<polygon points="569,1095.5 566.38,1099.95 564.55,1098.12" fill="#000"/>
<polygon points="365.5,1299 368.12,1294.55 369.95,1296.38" fill="#000"/>
<line x1="427.6" y1="949" x2="427.6" y2="1162.5" stroke="#000" stroke-width="1.1"/>
<line x1="431.5" y1="952" x2="431.5" y2="1162.5" stroke="#000" stroke-width="1.1"/>
<line x1="225" y1="1158.4" x2="427.6" y2="1158.4" stroke="#000" stroke-width="1.1"/>
<line x1="225" y1="1161.2" x2="431.5" y2="1161.2" stroke="#000" stroke-width="1.1"/>
<polyline points="422.5,1156.2 427.6,1156.2 427.6,1158.4" stroke="#000" stroke-width="1.0" fill="none" stroke-linejoin="round"/>
<line x1="422.5" y1="1156.2" x2="422.5" y2="1162.5" stroke="#000" stroke-width="1.0"/>
<line x1="422.5" y1="1162.5" x2="431.5" y2="1162.5" stroke="#000" stroke-width="1.1"/>
<line x1="427.6" y1="949.9" x2="628.8" y2="949.9" stroke="#000" stroke-width="2.0"/>
<line x1="427.6" y1="953.3" x2="632.4" y2="953.3" stroke="#000" stroke-width="1.0"/>
<line x1="427.6" y1="955.4" x2="628.6" y2="955.4" stroke="#000" stroke-width="1.0"/>
<line x1="628.6" y1="955.4" x2="628.6" y2="953.3" stroke="#000" stroke-width="0.9"/>
<path d="M628.8,950 L633.5,950.2 Q636,950.5 636.9,948 L632.4,953.3" stroke="#000" stroke-width="1" fill="none"/>
<polygon points="593.4,940.4 612.1,940.4 612.1,949 606.4,949 606.4,942.2 593.4,942.2" stroke="#000" stroke-width="1.0" fill="#fff" stroke-linejoin="round"/>
<polygon points="606.4,955.4 612.1,955.4 612.1,960.9 606.4,960.9" stroke="#000" stroke-width="1.0" fill="#fff" stroke-linejoin="round"/>
<path d="M428.5,949.5 Q429,944 431.8,944 Q434.5,944 435.2,949.5 Z" stroke="#000" stroke-width="1" fill="#fff"/>
<line x1="424.6" y1="865" x2="424.6" y2="942.3" stroke="#000" stroke-width="1.0"/>
<line x1="427.4" y1="868" x2="427.4" y2="927" stroke="#000" stroke-width="0.9"/>
<line x1="429.8" y1="865" x2="429.8" y2="942.3" stroke="#000" stroke-width="1.0"/>
<rect x="424.6" y="927.2" width="5.2" height="14.9" stroke="#000" stroke-width="1.0" fill="#fff"/>
<rect x="415.3" y="865" width="8.5" height="3.6" stroke="#000" stroke-width="1.0" fill="#fff"/>
<rect x="378" y="865" width="15.7" height="2.8" stroke="#000" stroke-width="1.0" fill="#fff"/>
<path d="M382,867.8 L382,872 Q382,876 386,876 Q390,876 390,872 L390,867.8" stroke="#000" stroke-width="0.9" fill="#fff"/>
<circle cx="386" cy="871.9" r="1.7" stroke="#000" stroke-width="0.8" fill="none"/>
<line x1="382.4" y1="873.5" x2="416.5" y2="936.9" stroke="#000" stroke-width="0.9"/>
<line x1="390" y1="870.25" x2="422.2" y2="931.25" stroke="#000" stroke-width="0.9"/>
<path d="M424.6,930 L421,930 Q415.5,931 416.5,936.5 Q418,939.5 424.6,939" stroke="#000" stroke-width="0.9" fill="#fff"/>
<circle cx="419" cy="934.5" r="1.7" stroke="#000" stroke-width="0.8" fill="none"/>
<line x1="220.1" y1="1160" x2="220.1" y2="1362" stroke="#000" stroke-width="1.9"/>
<line x1="222.3" y1="1162" x2="222.3" y2="1362" stroke="#000" stroke-width="1.0"/>
<line x1="225.1" y1="1162" x2="225.1" y2="1359.1" stroke="#000" stroke-width="1.0"/>
<line x1="225.1" y1="1359.1" x2="222.3" y2="1359.1" stroke="#000" stroke-width="1.0"/>
<line x1="60" y1="1367.4" x2="219.2" y2="1367.4" stroke="#000" stroke-width="1.1"/>
<polyline points="219.2,1367.4 222.8,1362.7 222.8,1359" stroke="#000" stroke-width="1.0" fill="none" stroke-linejoin="round"/>
<polyline points="211.3,1323.1 213,1323.1 213,1336.1 220,1336.1" stroke="#000" stroke-width="1.0" fill="none" stroke-linejoin="round"/>
<polyline points="211.3,1323.1 211.3,1342 220,1342" stroke="#000" stroke-width="1.0" fill="none" stroke-linejoin="round"/>
<rect x="222.3" y="1336.1" width="8.5" height="5.9" stroke="#000" stroke-width="1.0" fill="#fff"/>
<line x1="225.1" y1="1342" x2="225.1" y2="1359.1" stroke="#000" stroke-width="1.0"/>
<rect x="212.5" y="1155" width="6.2" height="5.5" stroke="#000" stroke-width="1.0" fill="#fff"/>
<path d="M217,1160.5 Q213,1161.5 214.5,1165 Q216,1166.5 218.5,1166" stroke="#000" stroke-width="0.9" fill="none"/>
<line x1="217" y1="1160" x2="217" y2="1190" stroke="#000" stroke-width="1.0"/>
<line x1="219.4" y1="1160" x2="219.4" y2="1170" stroke="#000" stroke-width="0.9"/>
<line x1="135" y1="1155.3" x2="196.3" y2="1155.3" stroke="#000" stroke-width="1.0"/>
<line x1="135" y1="1157.7" x2="196.3" y2="1157.7" stroke="#000" stroke-width="0.9"/>
<rect x="135" y="1154.3" width="22" height="2" fill="#000"/>
<rect x="135" y="1159.4" width="22" height="2" fill="#000"/>
<rect x="196.3" y="1154.3" width="15.1" height="5.8" stroke="#000" stroke-width="1.0" fill="#fff"/>
<polyline points="135,1145.4 137.6,1145.4 137.6,1154.3" stroke="#000" stroke-width="0.9" fill="none" stroke-linejoin="round"/>
<rect x="135" y="1108.9" width="2.6" height="14.5" stroke="#000" stroke-width="1.0" fill="#fff"/>
<line x1="140.3" y1="1112.7" x2="206.3" y2="1146.7" stroke="#000" stroke-width="0.9"/>
<line x1="140.3" y1="1119.9" x2="201.5" y2="1151.5" stroke="#000" stroke-width="0.9"/>
<circle cx="140.8" cy="1116.2" r="2.2" stroke="#000" stroke-width="0.8" fill="none"/>
<circle cx="204.2" cy="1149.3" r="2.2" stroke="#000" stroke-width="0.8" fill="none"/>
<circle cx="204.2" cy="1149.3" r="1" stroke="#000" stroke-width="0.7" fill="none"/>
</g>
<line x1="60" y1="865" x2="490.5" y2="865" stroke="#000" stroke-width="1.1"/>
<line x1="60" y1="1160" x2="212" y2="1160" stroke="#000" stroke-width="1.1"/>
<line x1="484.5" y1="865" x2="484.5" y2="948.75" stroke="#000" stroke-width="0.9"/>
<polygon points="484.5,865 485.8,870 483.2,870" fill="#000"/>
<polygon points="484.5,948.75 483.2,943.75 485.8,943.75" fill="#000"/>
<line x1="67" y1="865" x2="67" y2="1160" stroke="#000" stroke-width="0.9"/>
<polygon points="67,865 68.3,870 65.7,870" fill="#000"/>
<polygon points="67,1160 65.7,1155 68.3,1155" fill="#000"/>
<line x1="67" y1="1160" x2="67" y2="1367.4" stroke="#000" stroke-width="0.9"/>
<polygon points="67,1160 68.3,1165 65.7,1165" fill="#000"/>
<polygon points="67,1367.4 65.7,1362.4 68.3,1362.4" fill="#000"/>
<line x1="866" y1="865" x2="1307.5" y2="865" stroke="#000" stroke-width="1.1"/>
<line x1="1132.5" y1="1160" x2="1307.5" y2="1160" stroke="#000" stroke-width="1.1"/>
<line x1="1125" y1="1367.4" x2="1307.5" y2="1367.4" stroke="#000" stroke-width="1.1"/>
<line x1="1301.25" y1="865" x2="1301.25" y2="1160" stroke="#000" stroke-width="0.9"/>
<polygon points="1301.25,865 1302.55,870 1299.95,870" fill="#000"/>
<polygon points="1301.25,1160 1299.95,1155 1302.55,1155" fill="#000"/>
<line x1="1301.25" y1="1160" x2="1301.25" y2="1367.4" stroke="#000" stroke-width="0.9"/>
<polygon points="1301.25,1160 1302.55,1165 1299.95,1165" fill="#000"/>
<polygon points="1301.25,1367.4 1299.95,1362.4 1302.55,1362.4" fill="#000"/>
<line x1="873" y1="865" x2="873" y2="948.75" stroke="#000" stroke-width="0.9"/>
<polygon points="873,865 874.3,870 871.7,870" fill="#000"/>
<polygon points="873,948.75 871.7,943.75 874.3,943.75" fill="#000"/>
<g class="lab" transform="matrix(1,0,0,1,216.6,796.6)"><text x="-0.18" y="0" font-size="35.36" transform="scale(0.88,1)">A1,X1,Y1</text></g>
<g class="lab" transform="matrix(1,0,0,1,516,803.5)"><text x="-2.69" y="0" font-size="33.57" transform="scale(0.95,1)">B2</text></g>
<g class="lab" transform="matrix(0,-1,1,0,53.9,1078.8)"><text x="-0.18" y="0" font-size="35.14" transform="scale(0.9,1)">A2,X2,Y2</text></g>
<g class="lab" transform="matrix(0,-1,1,0,478,925)"><text x="-1.82" y="0" font-size="36.43" transform="scale(0.84,1)">C2</text></g>
<g class="lab" transform="matrix(1,0,0,1,158,1206.75)"><text x="-1.7" y="0" font-size="33.93" transform="scale(0.87,1)">C1</text></g>
<g class="lab" transform="matrix(0,-1,1,0,62.5,1280.5)"><text x="-2.96" y="0" font-size="36.96" transform="scale(0.8,1)">B1</text></g>
<g class="lab" transform="matrix(0.71,-0.71,0.71,0.71,456.14,1200.58)"><text x="-2.78" y="0" font-size="34.78" transform="scale(0.99,1)">D</text></g>
<g class="lab" transform="matrix(1,0,0,1,794,803.5)"><text x="-2.71" y="0" font-size="33.86" transform="scale(0.93,1)">B2</text></g>
<g class="lab" transform="matrix(1,0,0,1,997.1,796.5)"><text x="-0.17" y="0" font-size="34.78" transform="scale(0.88,1)">A1,X1,Y1</text></g>
<g class="lab" transform="matrix(0,-1,1,0,866,925)"><text x="-1.79" y="0" font-size="35.71" transform="scale(0.86,1)">C2</text></g>
<g class="lab" transform="matrix(0,-1,1,0,1288.5,1078.8)"><text x="-0.18" y="0" font-size="35.36" transform="scale(0.89,1)">A2,X2,Y2</text></g>
<g class="lab" transform="matrix(1,0,0,1,1151.25,1206.75)"><text x="-1.61" y="0" font-size="32.14" transform="scale(0.86,1)">C1</text></g>
<g class="lab" transform="matrix(0,-1,1,0,1295,1279.25)"><text x="-2.75" y="0" font-size="34.42" transform="scale(0.83,1)">B1</text></g>
<g class="lab" transform="matrix(0.71,0.71,-0.71,0.71,874.67,1187.09)"><text x="-2.78" y="0" font-size="34.78" transform="scale(0.99,1)">D</text></g>
<rect x="1370.6" y="838.6" width="176.9" height="263.1" stroke="#000" stroke-width="1.1" fill="none"/>
<line x1="1370.6" y1="869.2" x2="1510.3" y2="869.2" stroke="#000" stroke-width="1.1"/>
<polygon points="1518.3,869.2 1503.3,871.8 1503.3,866.6" fill="#000"/>
<line x1="1370.6" y1="904.2" x2="1500.1" y2="904.2" stroke="#000" stroke-width="1.1"/>
<polygon points="1508.1,904.2 1493.1,906.8 1493.1,901.6" fill="#000"/>
<line x1="1370.6" y1="942.4" x2="1485.8" y2="942.4" stroke="#000" stroke-width="1.1"/>
<polygon points="1493.8,942.4 1478.8,945 1478.8,939.8" fill="#000"/>
<line x1="1518.3" y1="869" x2="1518.3" y2="1004" stroke="#000" stroke-width="1.0" stroke-dasharray="3.2,3.2"/>
<line x1="1509.1" y1="904" x2="1509.1" y2="1004" stroke="#000" stroke-width="1.0" stroke-dasharray="3.2,3.2"/>
<line x1="1494.9" y1="942" x2="1494.9" y2="1030" stroke="#000" stroke-width="1.0" stroke-dasharray="3.2,3.2"/>
<line x1="1370.6" y1="1003.8" x2="1518.3" y2="1003.8" stroke="#000" stroke-width="1.1"/>
<line x1="1518.3" y1="1000" x2="1518.3" y2="1101.7" stroke="#000" stroke-width="1.1"/>
<polyline points="1509.1,1003.8 1509.1,1071.8 1499.5,1071.8" stroke="#000" stroke-width="1.0" fill="none" stroke-linejoin="round"/>
<line x1="1491.5" y1="1003.8" x2="1491.5" y2="1101.7" stroke="#000" stroke-width="1.0"/>
<line x1="1499.5" y1="1003.8" x2="1499.5" y2="1101.7" stroke="#000" stroke-width="1.0"/>
<rect x="1463.4" y="1004" width="26.9" height="7.6" stroke="#000" stroke-width="1.1" fill="#fff"/>
<polyline points="1490,1004.5 1500,1004.5 1500,1023" stroke="#000" stroke-width="1.8" fill="none" stroke-linejoin="round"/>
<line x1="1491" y1="1004.5" x2="1491" y2="1021" stroke="#000" stroke-width="1.8"/>
<line x1="1491" y1="1027" x2="1491" y2="1061" stroke="#000" stroke-width="1.6"/>
<g class="lg">
<g class="lab" transform="matrix(1,0,0,1,1420.3,863.7)"><text x="-0.1" y="0" font-size="20.14" transform="scale(0.95,1)">A1</text></g>
<g class="lab" transform="matrix(1,0,0,1,1420.3,900)"><text x="-0.5" y="0" font-size="20" transform="scale(0.97,1)">X1</text></g>
<g class="lab" transform="matrix(1,0,0,1,1420.3,938.9)"><text x="-0.54" y="0" font-size="21.59" transform="scale(0.9,1)">Y1</text></g>
</g>
<rect x="1331.4" y="1131.9" width="259.3" height="170.7" stroke="#000" stroke-width="1.1" fill="none"/>
<line x1="1493.4" y1="1131.9" x2="1493.4" y2="1275.7" stroke="#000" stroke-width="1.1"/>
<line x1="1359.4" y1="1131.9" x2="1359.4" y2="1265.8" stroke="#000" stroke-width="1.1"/>
<polygon points="1359.4,1273.8 1356.8,1258.8 1362,1258.8" fill="#000"/>
<line x1="1396" y1="1131.9" x2="1396" y2="1255.8" stroke="#000" stroke-width="1.1"/>
<polygon points="1396,1263.8 1393.4,1248.8 1398.6,1248.8" fill="#000"/>
<line x1="1431.7" y1="1131.9" x2="1431.7" y2="1242" stroke="#000" stroke-width="1.1"/>
<polygon points="1431.7,1250 1429.1,1235 1434.3,1235" fill="#000"/>
<line x1="1431.7" y1="1250.9" x2="1519.6" y2="1250.9" stroke="#000" stroke-width="1.0" stroke-dasharray="3.2,3.2"/>
<line x1="1396" y1="1265" x2="1493.4" y2="1265" stroke="#000" stroke-width="1.0" stroke-dasharray="3.2,3.2"/>
<line x1="1359.4" y1="1275.7" x2="1493.4" y2="1275.7" stroke="#000" stroke-width="1.0" stroke-dasharray="3.2,3.2"/>
<line x1="1493.4" y1="1275.7" x2="1590.7" y2="1275.7" stroke="#000" stroke-width="1.1"/>
<line x1="1493.4" y1="1247.3" x2="1590.7" y2="1247.3" stroke="#000" stroke-width="1.0"/>
<line x1="1493.4" y1="1255.5" x2="1590.7" y2="1255.5" stroke="#000" stroke-width="1.0"/>
<polyline points="1493.4,1265 1561.4,1265 1561.4,1255.5" stroke="#000" stroke-width="1.0" fill="none" stroke-linejoin="round"/>
<polyline points="1493.4,1220.4 1501.3,1220.4 1501.3,1247.3" stroke="#000" stroke-width="1.0" fill="none" stroke-linejoin="round"/>
<polyline points="1493.4,1245.5 1509,1245.5 1509,1247.3" stroke="#000" stroke-width="1.6" fill="none" stroke-linejoin="round"/>
<polyline points="1509,1257.5 1509,1255.5 1493.4,1255.5" stroke="#000" stroke-width="1.6" fill="none" stroke-linejoin="round"/>
<g class="lg">
<g class="lab" transform="matrix(0,-1,1,0,1354.8,1221.6)"><text x="-0.11" y="0" font-size="22.29" transform="scale(0.94,1)">A2</text></g>
<g class="lab" transform="matrix(0,-1,1,0,1392.3,1212.5)"><text x="-0.59" y="0" font-size="23.43" transform="scale(0.91,1)">X2</text></g>
<g class="lab" transform="matrix(0,-1,1,0,1429.5,1206)"><text x="-0.57" y="0" font-size="23" transform="scale(0.93,1)">Y2</text></g>
</g>
</svg></body></html>
